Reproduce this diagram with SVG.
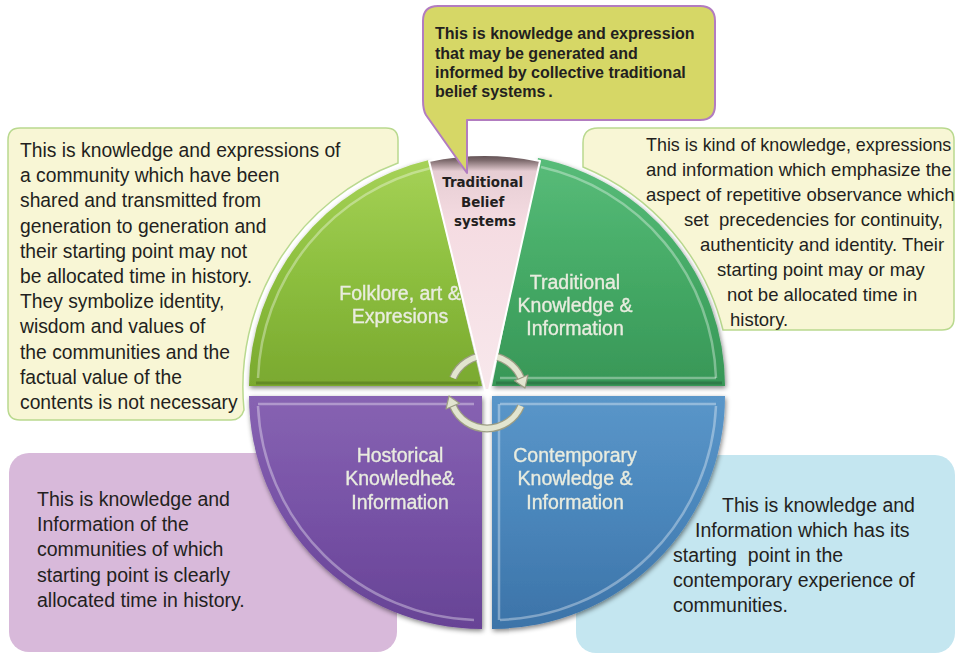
<svg xmlns="http://www.w3.org/2000/svg" width="956" height="654" viewBox="0 0 956 654">
  <style>
    .note-cream { fill: #f8f6d5; stroke: #b9d98f; stroke-width: 1.5; }
    .note-text { font-family: "Liberation Sans", Arial, sans-serif; fill: #231f20; }
    .seg-label { font-family: "Liberation Sans", Arial, sans-serif; font-size: 19.5px; fill: #e9ecdf; stroke: #e9ecdf; stroke-width: 0.35px; text-anchor: middle; }
    .bevel-light { fill: none; stroke: #ffffff; stroke-opacity: 0.35; stroke-width: 2.5; }
    .bevel-dark { fill: none; stroke: #000000; stroke-opacity: 0.18; stroke-width: 3; }
    .cycle-outline { fill: none; stroke: #9c9d84; stroke-width: 8; stroke-linecap: butt; }
    .cycle-body { fill: none; stroke: #e2e5d0; stroke-width: 5.5; stroke-linecap: butt; }
    .cycle-head { fill: #e2e5d0; stroke: #9c9d84; stroke-width: 1.2; stroke-linejoin: round; }
  </style>
  <defs>
    <linearGradient id="gFolk" gradientUnits="userSpaceOnUse" x1="0" y1="158" x2="0" y2="386">
      <stop offset="0" stop-color="#a6d257"/>
      <stop offset="0.5" stop-color="#8dbf3f"/>
      <stop offset="1" stop-color="#7aa92f"/>
    </linearGradient>
    <linearGradient id="gTrad" gradientUnits="userSpaceOnUse" x1="0" y1="158" x2="0" y2="386">
      <stop offset="0" stop-color="#58bc79"/>
      <stop offset="0.5" stop-color="#45aa66"/>
      <stop offset="1" stop-color="#389757"/>
    </linearGradient>
    <linearGradient id="gHist" gradientUnits="userSpaceOnUse" x1="0" y1="396" x2="0" y2="629">
      <stop offset="0" stop-color="#8763b2"/>
      <stop offset="0.5" stop-color="#7752a6"/>
      <stop offset="1" stop-color="#674395"/>
    </linearGradient>
    <linearGradient id="gCont" gradientUnits="userSpaceOnUse" x1="0" y1="396" x2="0" y2="629">
      <stop offset="0" stop-color="#5a96c9"/>
      <stop offset="0.5" stop-color="#4a86bb"/>
      <stop offset="1" stop-color="#3c73a8"/>
    </linearGradient>
    <linearGradient id="gBelief" gradientUnits="userSpaceOnUse" x1="0" y1="152" x2="0" y2="392">
      <stop offset="0" stop-color="#4e4042"/>
      <stop offset="0.035" stop-color="#7d6a6d"/>
      <stop offset="0.08" stop-color="#e6cdd3"/>
      <stop offset="0.3" stop-color="#f5dce2"/>
      <stop offset="1" stop-color="#f8e8ec"/>
    </linearGradient>
    <filter id="pieShadow" x="-10%" y="-10%" width="120%" height="120%">
      <feGaussianBlur in="SourceAlpha" stdDeviation="2.5"/>
      <feOffset dx="1" dy="2" result="off"/>
      <feComponentTransfer><feFuncA type="linear" slope="0.5"/></feComponentTransfer>
      <feMerge><feMergeNode/><feMergeNode in="SourceGraphic"/></feMerge>
    </filter>
  </defs>

  <rect width="956" height="654" fill="#ffffff"/>

  <!-- description notes that sit behind the pie -->
  <g id="note-folklore">
    <path class="note-cream" d="M20,128 H386 Q398,128 398,140 V163 A239,239 0 0 0 244,410 Q241,420 231,420 H20 Q8,420 8,408 V140 Q8,128 20,128 Z"/>
    <text class="note-text" font-size="19.3">
      <tspan x="20" y="157">This is knowledge and expressions of</tspan>
      <tspan x="20" y="182.2">a community which have been</tspan>
      <tspan x="20" y="207.4">shared and transmitted from</tspan>
      <tspan x="20" y="232.6">generation to generation and</tspan>
      <tspan x="20" y="257.8">their starting point may not</tspan>
      <tspan x="20" y="283">be allocated time in history.</tspan>
      <tspan x="20" y="308.2">They symbolize identity,</tspan>
      <tspan x="20" y="333.4">wisdom and values of</tspan>
      <tspan x="20" y="358.6">the communities and the</tspan>
      <tspan x="20" y="383.8">factual value of the</tspan>
      <tspan x="20" y="409">contents is not necessary</tspan>
    </text>
  </g>

  <g id="note-traditional">
    <path class="note-cream" d="M598,128 H942 Q954,128 954,140 V318 Q954,330 942,330 H723 A238,238 0 0 0 583,167 V143 Q583,128 598,128 Z"/>
    <text class="note-text" font-size="18.5" xml:space="preserve"><tspan x="646" y="151" font-size="17.9">This is kind of knowledge, expressions</tspan><tspan x="646" y="176">and information which emphasize the</tspan><tspan x="646" y="201">aspect of repetitive observance which</tspan><tspan x="684" y="226">set  precedencies for continuity,</tspan><tspan x="700" y="251">authenticity and identity. Their</tspan><tspan x="717" y="276">starting point may or may</tspan><tspan x="727" y="301">not be allocated time in</tspan><tspan x="730" y="326">history.</tspan></text>
  </g>

  <g id="note-historical">
    <rect x="9" y="453" width="388" height="199" rx="20" fill="#d8b9da"/>
    <text class="note-text" font-size="19.5">
      <tspan x="37" y="506">This is knowledge and</tspan>
      <tspan x="37" y="531.2">Information of the</tspan>
      <tspan x="37" y="556.4">communities of which</tspan>
      <tspan x="37" y="581.6">starting point is clearly</tspan>
      <tspan x="37" y="607">allocated time in history.</tspan>
    </text>
  </g>

  <g id="note-contemporary">
    <rect x="576" y="455" width="379" height="198" rx="20" fill="#c4e6f0"/>
    <text class="note-text" font-size="19.5" xml:space="preserve"><tspan x="722" y="512">This is knowledge and</tspan><tspan x="695" y="537">Information which has its</tspan><tspan x="673" y="562">starting  point in the</tspan><tspan x="673" y="587">contemporary experience of</tspan><tspan x="673" y="612">communities.</tspan></text>
  </g>

  <!-- the four pie segments -->
  <g id="pie" filter="url(#pieShadow)">
    <g id="seg-folklore">
      <path d="M482,386 L249,386 A233,233 0 0 1 429,160 Z" fill="url(#gFolk)"/>
      <path class="bevel-light" d="M258,378 A224,224 0 0 1 431,168"/>
      <path class="bevel-dark" d="M256,383 H478"/>
      <text class="seg-label"><tspan x="400" y="300">Folklore, art &amp;</tspan><tspan x="400" y="323">Expresions</tspan></text>
    </g>
    <g id="seg-traditional">
      <path d="M492,386 L538,158 A233,233 0 0 1 725,386 Z" fill="url(#gTrad)"/>
      <path class="bevel-light" d="M541,167 A224,224 0 0 1 716,378"/>
      <path class="bevel-light" d="M500,378 H716"/>
      <path class="bevel-dark" d="M496,383 H722"/>
      <text class="seg-label"><tspan x="575" y="289">Traditional</tspan><tspan x="575" y="312">Knowledge &amp;</tspan><tspan x="575" y="335">Information</tspan></text>
    </g>
    <g id="seg-historical">
      <path d="M482,396 L249,396 A233,233 0 0 0 482,629 Z" fill="url(#gHist)"/>
      <path class="bevel-light" d="M258,404 H474"/>
      <path class="bevel-light" d="M258,406 A224,224 0 0 0 474,620" stroke-opacity="0.2"/>
      <text class="seg-label"><tspan x="400" y="462">Hostorical</tspan><tspan x="400" y="485">Knowledhe&amp;</tspan><tspan x="400" y="509">Information</tspan></text>
    </g>
    <g id="seg-contemporary">
      <path d="M492,396 L492,629 A233,233 0 0 0 725,396 Z" fill="url(#gCont)"/>
      <path class="bevel-light" d="M499,404 V620" stroke-opacity="0.5"/>
      <path class="bevel-light" d="M500,404 H716"/>
      <path class="bevel-light" d="M716,406 A224,224 0 0 1 500,620" stroke-opacity="0.2"/>
      <text class="seg-label"><tspan x="575" y="462">Contemporary</tspan><tspan x="575" y="485">Knowledge &amp;</tspan><tspan x="575" y="509">Information</tspan></text>
    </g>
  </g>

  <!-- cycle arrows around the centre -->
  <g id="connectors">
    <path class="cycle-outline" d="M453,378 A37,37 0 0 1 521,378"/>
    <path class="cycle-body" d="M453,378 A37,37 0 0 1 521,378"/>
    <polygon class="cycle-head" points="528,375 514.5,380.7 525,388"/>
    <path class="cycle-outline" d="M521,406 A37,37 0 0 1 453,406"/>
    <path class="cycle-body" d="M521,406 A37,37 0 0 1 453,406"/>
    <polygon class="cycle-head" points="446,409 459.5,403.3 449,396"/>
  </g>

  <!-- centre wedge -->
  <g id="seg-belief">
    <path d="M429,161 Q485,149 540,161 L489,390 L485,390 Z" fill="url(#gBelief)" stroke="#ffffff" stroke-width="2" stroke-linejoin="round"/>
    <text font-family="'DejaVu Sans', Verdana, sans-serif" font-weight="bold" font-size="13.4" fill="#231f20" text-anchor="middle">
      <tspan x="485" y="187">Traditional</tspan>
      <tspan x="485" y="206.5">Belief</tspan>
      <tspan x="485" y="225.5">systems</tspan>
    </text>
  </g>

  <g id="note-belief">
    <path d="M438,6 H700 Q715,6 715,21 V105 Q715,120 700,120 H467 V173 L426,115 Q423,110 423,100 V21 Q423,6 438,6 Z" fill="#d6d766" stroke="#b27cc0" stroke-width="2" stroke-linejoin="round"/>
    <text class="note-text" font-size="16" font-weight="bold">
      <tspan x="435" y="39.3">This is knowledge and expression</tspan>
      <tspan x="435" y="58.5">that may be generated and</tspan>
      <tspan x="435" y="77.7">informed by collective traditional</tspan>
      <tspan x="435" y="97">belief systems<tspan dx="3">.</tspan></tspan>
    </text>
  </g>
</svg>
